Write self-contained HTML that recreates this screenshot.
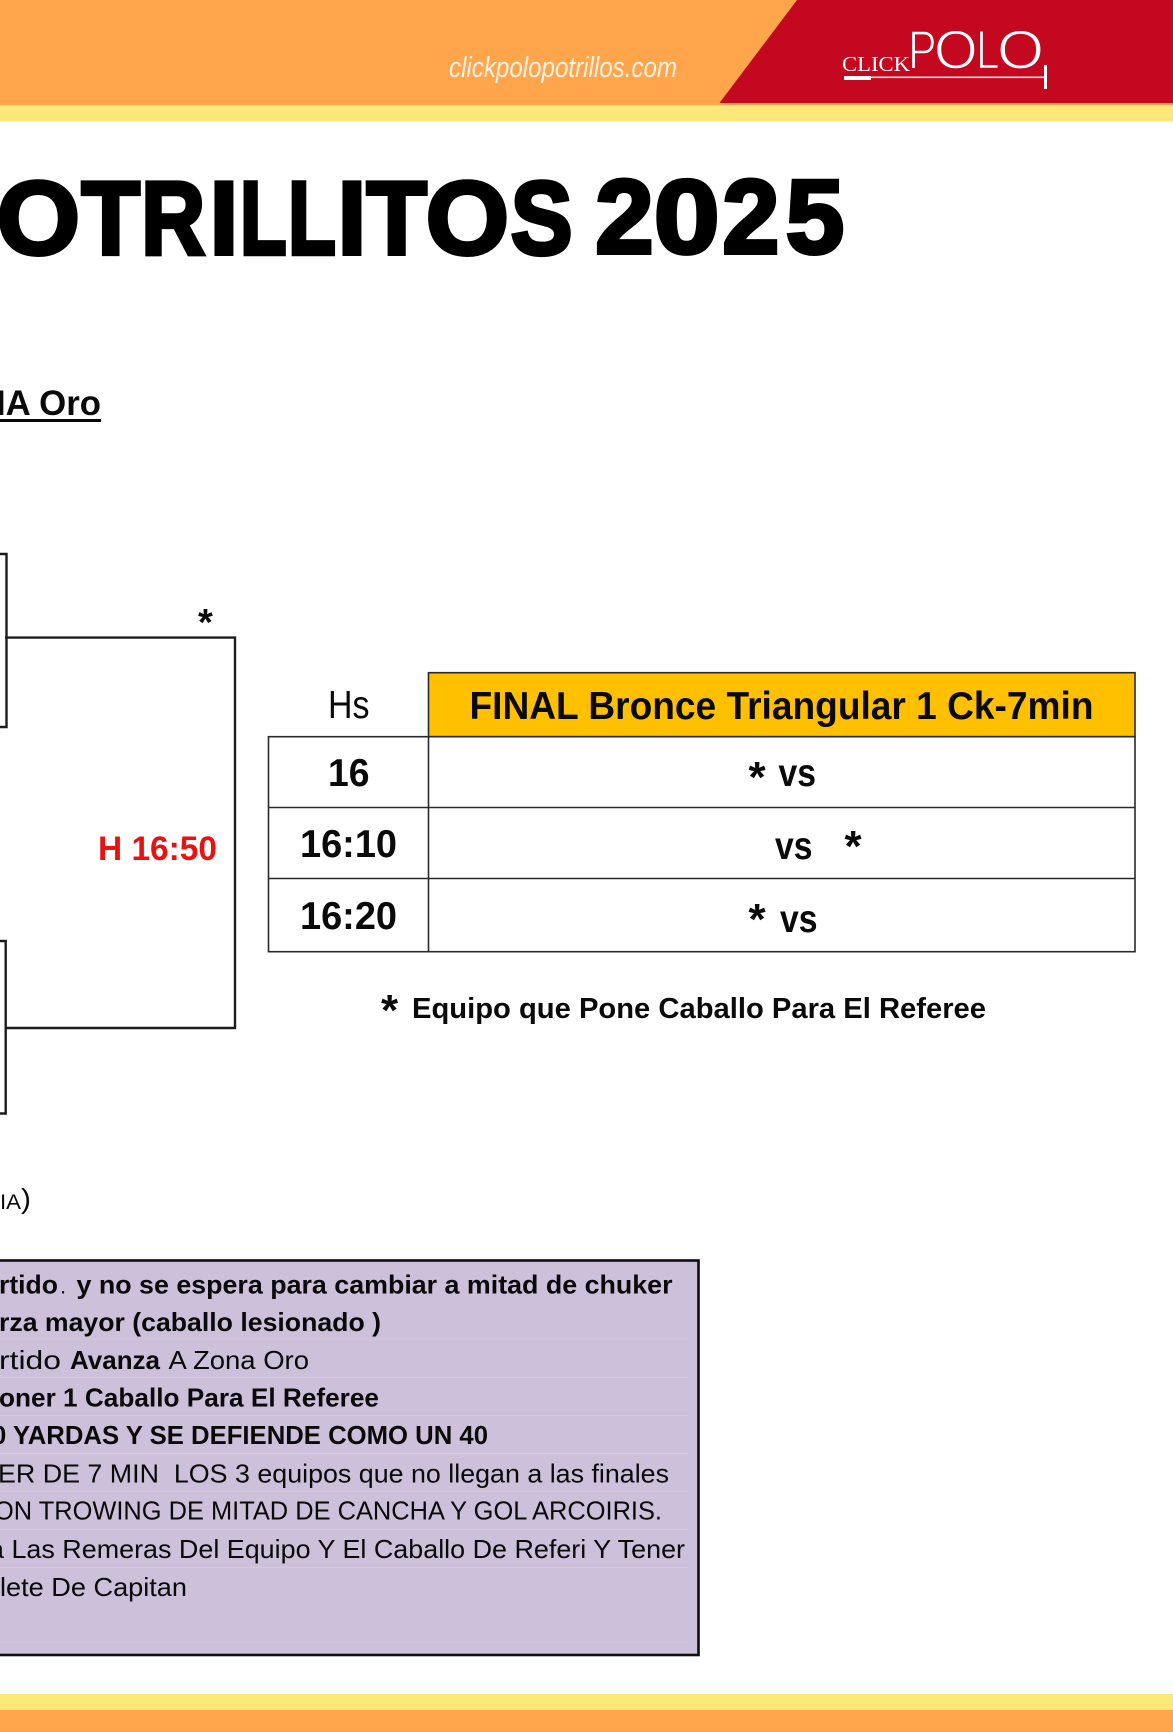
<!DOCTYPE html>
<html><head><meta charset="utf-8"><style>
html,body{margin:0;padding:0;background:#fff;width:1173px;height:1732px;overflow:hidden}
svg{display:block}
text{font-family:"Liberation Sans",sans-serif;fill:#0a0a0a}
.b{font-weight:bold}
.t{font-weight:bold;fill:#000;stroke:#000;stroke-width:4;vector-effect:non-scaling-stroke;font-size:104px}
.d{font-weight:bold;fill:#000;stroke:#000;stroke-width:4;vector-effect:non-scaling-stroke;font-size:105px}
.p{fill:#fff;stroke:#c40820;stroke-width:1.4;vector-effect:non-scaling-stroke;font-size:55px}
</style></head><body>
<svg width="1173" height="1732" viewBox="0 0 1173 1732" xmlns="http://www.w3.org/2000/svg">
<rect width="1173" height="1732" fill="#fff"/>
<rect x="0" y="0" width="1173" height="105" fill="#ffa64d"/>
<rect x="0" y="105" width="1173" height="16" fill="#ffe87a"/>
<polygon points="797,0 1173,0 1173,103 719.5,103" fill="#c40820"/>
<text x="449" y="77" font-size="29" font-style="italic" style="fill:#fff1e0" textLength="228" lengthAdjust="spacingAndGlyphs">clickpolopotrillos.com</text>
<text x="842" y="71" font-size="21" style="font-family:'Liberation Serif',serif;fill:#fff" textLength="68" lengthAdjust="spacingAndGlyphs">CLICK</text>
<text class="p" y="68.5" transform="translate(908 0) scale(.78 1)">P</text>
<text class="p" y="68.5" transform="translate(934 0) scale(1.02 1)">O</text>
<text class="p" y="68.5" transform="translate(976 0) scale(.77 1)">L</text>
<text class="p" y="68.5" transform="translate(997 0) scale(1.1 1)">O</text>
<rect x="844" y="76" width="27" height="4" fill="#fff"/>
<rect x="871" y="76.5" width="175" height="1.6" fill="#fbe4e4"/>
<rect x="1044" y="65" width="3" height="24" fill="#fff"/>

<text class="t" y="254" transform="translate(-3.3 0) scale(1.03 1)">O</text>
<text class="t" y="254" transform="translate(81.5 0) scale(.92 1)">T</text>
<text class="t" y="254" transform="translate(141.25 0) scale(.85 1)">R</text>
<text class="t" y="254" transform="translate(209.5 0)">I</text>
<text class="t" y="254" transform="translate(240.1 0) scale(.73 1)">L</text>
<text class="t" y="254" transform="translate(288.1 0) scale(.75 1)">L</text>
<text class="t" y="254" transform="translate(337.5 0)">I</text>
<text class="t" y="254" transform="translate(366.5 0) scale(.95 1)">T</text>
<text class="t" y="254" transform="translate(425.8 0) scale(1.03 1)">O</text>
<text class="t" y="254" transform="translate(510.8 0) scale(.89 1)">S</text>
<text class="d" y="253" transform="translate(595.3 0) scale(1 1)">2</text>
<text class="d" y="253" transform="translate(653.7 0) scale(1.13 1)">0</text>
<text class="d" y="253" transform="translate(722.4 0) scale(.975 1)">2</text>
<text class="d" y="253" transform="translate(785.7 0) scale(1 1)">5</text>

<text class="b" x="-4" y="415" font-size="35" textLength="105" lengthAdjust="spacingAndGlyphs">IA Oro</text>
<rect x="0" y="419" width="101" height="3" fill="#0a0a0a"/>

<g fill="none" stroke="#1c1c1c" stroke-width="2.4">
<polyline points="0,554 6.5,554 6.5,727 0,727"/>
<polyline points="0,941 5.7,941 5.7,1113.5 0,1113.5"/>
<polyline points="5,637.6 235,637.6 235,1028 6,1028"/>
</g>
<text class="b" x="198" y="635" font-size="38">*</text>
<text class="b" x="98" y="860" font-size="34" style="fill:#e81212" textLength="119" lengthAdjust="spacingAndGlyphs">H 16:50</text>

<rect x="428.5" y="672.7" width="706.5" height="64" fill="#ffc000"/>
<g fill="none" stroke="#2a2a2a" stroke-width="1.6">
<rect x="428.5" y="672.7" width="706.5" height="64"/>
<rect x="268.5" y="736.7" width="866.5" height="215"/>
<line x1="268.5" y1="807.5" x2="1135" y2="807.5"/>
<line x1="268.5" y1="878.5" x2="1135" y2="878.5"/>
<line x1="428.5" y1="736.7" x2="428.5" y2="951.7"/>
</g>
<text class="b" x="469.5" y="719" font-size="39" textLength="624" lengthAdjust="spacingAndGlyphs">FINAL Bronce Triangular 1 Ck-7min</text>
<text x="328" y="718" font-size="39" textLength="41.5" lengthAdjust="spacingAndGlyphs">Hs</text>
<text class="b" x="328" y="786" font-size="39" textLength="41.5" lengthAdjust="spacingAndGlyphs">16</text>
<text class="b" x="300" y="857" font-size="39" textLength="97" lengthAdjust="spacingAndGlyphs">16:10</text>
<text class="b" x="300" y="929" font-size="39" textLength="97" lengthAdjust="spacingAndGlyphs">16:20</text>
<text class="b" x="748.5" y="792" font-size="44">*</text>
<text class="b" x="778.5" y="786" font-size="39" textLength="37.5" lengthAdjust="spacingAndGlyphs">vs</text>
<text class="b" x="775" y="859" font-size="39" textLength="37.5" lengthAdjust="spacingAndGlyphs">vs</text>
<text class="b" x="844.5" y="861" font-size="44">*</text>
<text class="b" x="748.5" y="934" font-size="44">*</text>
<text class="b" x="780" y="932" font-size="39" textLength="37.5" lengthAdjust="spacingAndGlyphs">vs</text>
<text class="b" x="381" y="1025" font-size="44">*</text>
<text class="b" x="412" y="1018" font-size="29" textLength="574" lengthAdjust="spacingAndGlyphs">Equipo que Pone Caballo Para El Referee</text>

<text x="0" y="1209" font-size="21" textLength="21" lengthAdjust="spacingAndGlyphs">IA</text>
<text x="21" y="1208" font-size="28" textLength="10" lengthAdjust="spacingAndGlyphs">)</text>

<rect x="-5" y="1260.5" width="703.5" height="394.5" fill="#ccc0da" stroke="#0d0d12" stroke-width="2.6"/>
<g stroke="#d3c9e0" stroke-width="1">
<line x1="0" y1="1339" x2="688" y2="1339"/>
<line x1="0" y1="1377.5" x2="688" y2="1377.5"/>
<line x1="0" y1="1415.5" x2="688" y2="1415.5"/>
<line x1="0" y1="1453.5" x2="688" y2="1453.5"/>
<line x1="0" y1="1491.5" x2="688" y2="1491.5"/>
<line x1="0" y1="1529.5" x2="688" y2="1529.5"/>
<line x1="0" y1="1567.5" x2="688" y2="1567.5"/>
<line x1="0" y1="1642" x2="688" y2="1642"/>
</g>
<g font-size="26">
<text class="b" x="-1" y="1293.5" textLength="59" lengthAdjust="spacingAndGlyphs">rtido</text>
<text x="60" y="1293.5" font-size="22">.</text>
<text class="b" x="76.5" y="1293.5" textLength="596" lengthAdjust="spacingAndGlyphs">y no se espera para cambiar a mitad de chuker</text>
<text class="b" x="-1" y="1331" textLength="382" lengthAdjust="spacingAndGlyphs">rza mayor (caballo lesionado )</text>
<text x="-1" y="1369" textLength="62" lengthAdjust="spacingAndGlyphs">rtido</text>
<text class="b" x="70" y="1369" textLength="90" lengthAdjust="spacingAndGlyphs">Avanza</text>
<text x="168.5" y="1369" textLength="140.5" lengthAdjust="spacingAndGlyphs">A Zona Oro</text>
<text class="b" x="-1" y="1406.5" textLength="380" lengthAdjust="spacingAndGlyphs">oner 1 Caballo Para El Referee</text>
<text class="b" x="-8" y="1444" textLength="496" lengthAdjust="spacingAndGlyphs">0 YARDAS Y SE DEFIENDE COMO UN 40</text>
<text x="-2" y="1482.5" textLength="671" lengthAdjust="spacingAndGlyphs">ER DE 7 MIN&#160; LOS 3 equipos que no llegan a las finales</text>
<text x="-6" y="1519.5" textLength="668" lengthAdjust="spacingAndGlyphs">ON TROWING DE MITAD DE CANCHA Y GOL ARCOIRIS.</text>
<text x="-11" y="1558" textLength="696" lengthAdjust="spacingAndGlyphs">a Las Remeras Del Equipo Y El Caballo De Referi Y Tener</text>
<text x="0" y="1596" textLength="187" lengthAdjust="spacingAndGlyphs">lete De Capitan</text>
</g>

<rect x="0" y="1694" width="1173" height="16" fill="#ffe87a"/>
<rect x="0" y="1710" width="1173" height="22" fill="#ffa64d"/>
</svg>
</body></html>
